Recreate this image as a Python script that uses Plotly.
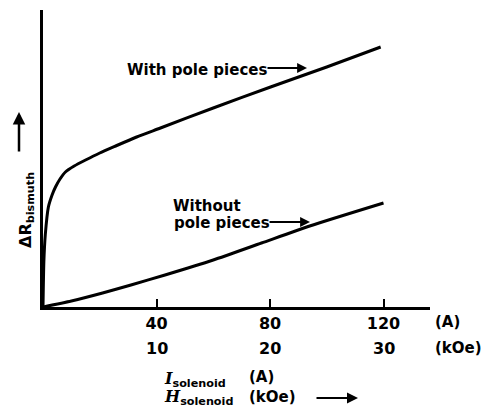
import plotly.graph_objects as go

# Data (current in A, arbitrary ΔR units)
with_pole_I = [0, 0.3, 0.8, 1.9, 3.2, 4.4, 6, 7.9, 11, 15, 20, 25.6, 33, 41.4, 60, 80.2, 100, 119]
with_pole_R = [0, 45, 72, 100, 112, 120, 128, 135, 141, 147, 154, 161, 170, 179, 199, 220, 240, 260]

without_pole_I = [0, 10, 21, 31, 43, 60, 77, 94, 120]
without_pole_R = [0, 6, 14, 22, 32, 47, 64, 81, 104]

current_ticks = [40, 80, 120]
current_labels = ["40", "80", "120"]
field_labels_kOe = [10, 20, 30]
A_per_kOe = 4

FONT = "DejaVu Sans"
W, H = 490, 410
ML, MR, MT, MB = 43, 60, 10, 103
PW, PH = W - ML - MR, H - MT - MB


def px(xp):
    return (xp - ML) / PW


def py(yp):
    return (H - MB - yp) / PH


fig = go.Figure()
fig.add_trace(go.Scatter(x=with_pole_I, y=with_pole_R, mode="lines",
                         line=dict(color="black", width=3, shape="spline", smoothing=0.6),
                         hoverinfo="skip"))
fig.add_trace(go.Scatter(x=without_pole_I, y=without_pole_R, mode="lines",
                         line=dict(color="black", width=3, shape="spline", smoothing=0.6),
                         hoverinfo="skip"))

bold = dict(family=FONT, size=16, color="black", weight="bold")
bold15 = dict(family=FONT, size=15, color="black", weight="bold")
ann = []

# second row of tick labels (kOe)
for k in field_labels_kOe:
    ann.append(dict(x=k * A_per_kOe, xref="x", y=py(348), yref="paper", text=str(k),
                    showarrow=False, font=bold, xanchor="center", yanchor="middle"))
ann.append(dict(x=px(433), xref="paper", y=py(322), yref="paper", text="(A)",
                showarrow=False, font=bold15, xanchor="left", yanchor="middle"))
ann.append(dict(x=px(433), xref="paper", y=py(348), yref="paper", text="(kOe)",
                showarrow=False, font=bold15, xanchor="left", yanchor="middle"))

# axis titles
ann.append(dict(x=px(162), xref="paper", y=py(379), yref="paper",
                text="<span style='font-family:DejaVu Serif'><i>I</i></span><sub>solenoid</sub>",
                showarrow=False, font=bold, xanchor="left", yanchor="middle"))
ann.append(dict(x=px(247), xref="paper", y=py(377), yref="paper", text="(A)",
                showarrow=False, font=bold15, xanchor="left", yanchor="middle"))
ann.append(dict(x=px(162), xref="paper", y=py(397), yref="paper",
                text="<span style='font-family:DejaVu Serif'><i>H</i></span><sub>solenoid</sub>",
                showarrow=False, font=bold, xanchor="left", yanchor="middle"))
ann.append(dict(x=px(247), xref="paper", y=py(397), yref="paper", text="(kOe)",
                showarrow=False, font=bold15, xanchor="left", yanchor="middle"))
ann.append(dict(x=px(358), xref="paper", y=py(398), yref="paper", text="",
                showarrow=True, ax=-43, ay=0, arrowhead=2, arrowsize=1.1, arrowwidth=2,
                arrowcolor="black"))

# y title
ann.append(dict(x=px(26), xref="paper", y=py(210), yref="paper",
                text="ΔR<sub>bismuth</sub>", textangle=-90,
                showarrow=False, font=bold, xanchor="center", yanchor="middle"))
ann.append(dict(x=px(19), xref="paper", y=py(112), yref="paper", text="",
                showarrow=True, ax=0, ay=41, arrowhead=2, arrowsize=1.0, arrowwidth=2.5,
                arrowcolor="black"))

# curve labels
ann.append(dict(x=px(125), xref="paper", y=py(70), yref="paper", text="With pole pieces",
                showarrow=False, font=bold15, xanchor="left", yanchor="middle"))
ann.append(dict(x=px(307), xref="paper", y=py(68), yref="paper", text="",
                showarrow=True, ax=-41, ay=0, arrowhead=2, arrowsize=1.1, arrowwidth=1.8,
                arrowcolor="black"))
ann.append(dict(x=px(171), xref="paper", y=py(206), yref="paper", text="Without",
                showarrow=False, font=bold15, xanchor="left", yanchor="middle"))
ann.append(dict(x=px(172), xref="paper", y=py(223), yref="paper", text="pole pieces",
                showarrow=False, font=bold15, xanchor="left", yanchor="middle"))
ann.append(dict(x=px(310), xref="paper", y=py(222), yref="paper", text="",
                showarrow=True, ax=-42, ay=0, arrowhead=2, arrowsize=1.1, arrowwidth=1.8,
                arrowcolor="black"))

fig.update_layout(
    width=W, height=H,
    margin=dict(l=ML, r=MR, t=MT, b=MB),
    paper_bgcolor="white", plot_bgcolor="white",
    showlegend=False,
    annotations=ann,
    xaxis=dict(range=[0, PW / 2.8375], showgrid=False, zeroline=False,
               showline=True, linecolor="black", linewidth=2.5,
               ticks="inside", ticklen=8, tickwidth=1.5, tickcolor="black",
               tickvals=current_ticks, ticktext=current_labels,
               tickfont=bold, ticklabelstandoff=0, fixedrange=True),
    yaxis=dict(range=[0, PH], showgrid=False, zeroline=False,
               showline=True, linecolor="black", linewidth=2.5,
               showticklabels=False, ticks="", fixedrange=True),
)

fig.write_html("out.html", config={"displayModeBar": False},
               post_script="document.body.style.margin='0';document.body.style.overflow='hidden';")
